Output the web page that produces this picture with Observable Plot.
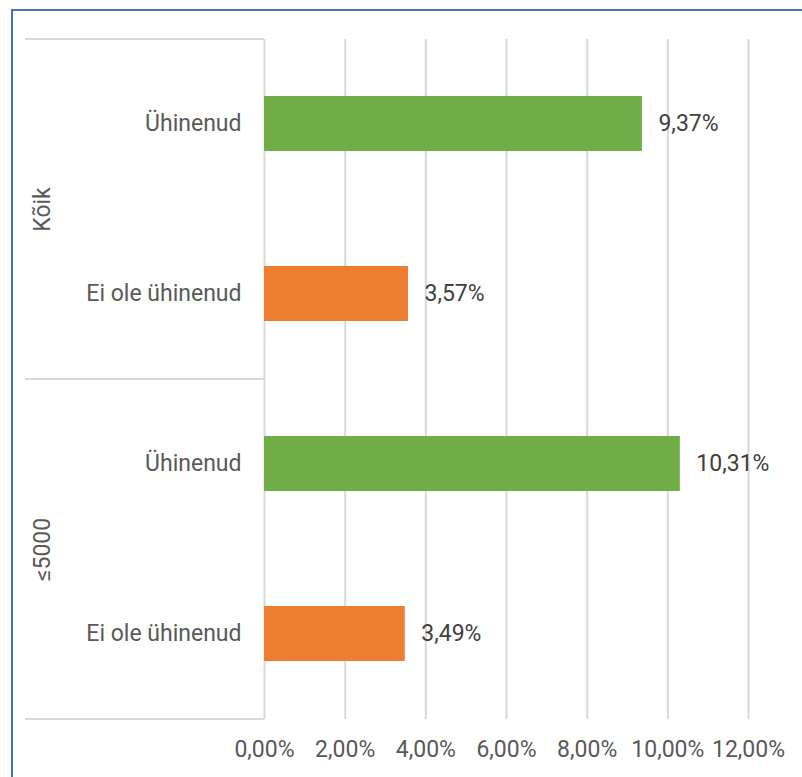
<!DOCTYPE html>
<html>
<head>
<meta charset="utf-8">
<script src="https://cdn.jsdelivr.net/npm/d3@7"></script>
<script src="https://cdn.jsdelivr.net/npm/@observablehq/plot@0.6"></script>
<style>
  html, body { margin: 0; padding: 0; background: #fff; }
  #wrap { position: relative; width: 802px; height: 777px; overflow: hidden; background: #fff; }
  #border { position: absolute; left: 11px; top: 9px; width: 900px; height: 900px; border: 2px solid #4472C4; box-sizing: border-box; pointer-events: none; }
  #chart { position: absolute; left: 0; top: 0; }
</style>
</head>
<body>
<div id="wrap"><div id="chart"></div><div id="border"></div></div>
<script>
const groups = ["Kõik", "≤5000"];
const categories = ["Ühinenud", "Ei ole ühinenud"];
const rowGroup = ["Kõik", "Kõik", "≤5000", "≤5000"];
const rowCategory = ["Ühinenud", "Ei ole ühinenud", "Ühinenud", "Ei ole ühinenud"];
const values = [9.37, 3.57, 10.31, 3.49];
const xTicks = [0, 2, 4, 6, 8, 10, 12];
const colors = {"Ühinenud": "#70AD47", "Ei ole ühinenud": "#ED7D31"};

const data = values.map((v, i) => ({group: rowGroup[i], category: rowCategory[i], value: v}));
const fmt = v => v.toFixed(2).replace(".", ",") + "%";

const textColor = "#595959";
const valueColor = "#404040";
const gridColor = "#D9D9D9";

const plot = Plot.plot({
  width: 802,
  height: 777,
  marginLeft: 264,
  marginRight: 54,
  marginTop: 39,
  marginBottom: 58,
  style: {fontFamily: "Roboto, sans-serif", fontSize: "23px", color: textColor, background: "transparent"},
  x: {domain: [0, 12], ticks: xTicks},
  y: {domain: categories, paddingInner: 0.676, paddingOuter: 0.338},
  fy: {domain: groups, padding: 0, axis: null},
  marks: [
    Plot.gridX(xTicks, {stroke: gridColor, strokeOpacity: 1, strokeWidth: 2}),
    Plot.barX(data, {x: "value", y: "category", fy: "group", fill: d => colors[d.category]}),
    Plot.text(data, {x: "value", y: "category", fy: "group", text: d => fmt(d.value), textAnchor: "start", dx: 16, fill: valueColor, fontSize: 23}),
    Plot.axisY({anchor: "left", tickSize: 0, tickPadding: 23, label: null, fontSize: 23}),
    Plot.axisX({anchor: "bottom", ticks: xTicks, tickFormat: fmt, tickSize: 0, tickPadding: 21, label: null, fontSize: 23}),
    Plot.text(groups, {fy: d => d, text: d => d, frameAnchor: "left", textAnchor: "middle", rotate: -90, dx: -222, fill: textColor, fontSize: 23})
  ]
});

// Separator lines in the label area, positioned from the facet scale
const fy = plot.scale("fy");
const svg = d3.select(plot);
const ys = [];
groups.forEach(g => { ys.push(fy.apply(g)); ys.push(fy.apply(g) + fy.bandwidth); });
const uniq = Array.from(new Set(ys.map(v => Math.round(v * 10) / 10)));
svg.append("g").selectAll("line").data(uniq).join("line")
  .attr("x1", 25).attr("x2", 264)
  .attr("y1", d => d).attr("y2", d => d)
  .attr("stroke", gridColor).attr("stroke-width", 2);

document.getElementById("chart").appendChild(plot);
</script>
</body>
</html>
